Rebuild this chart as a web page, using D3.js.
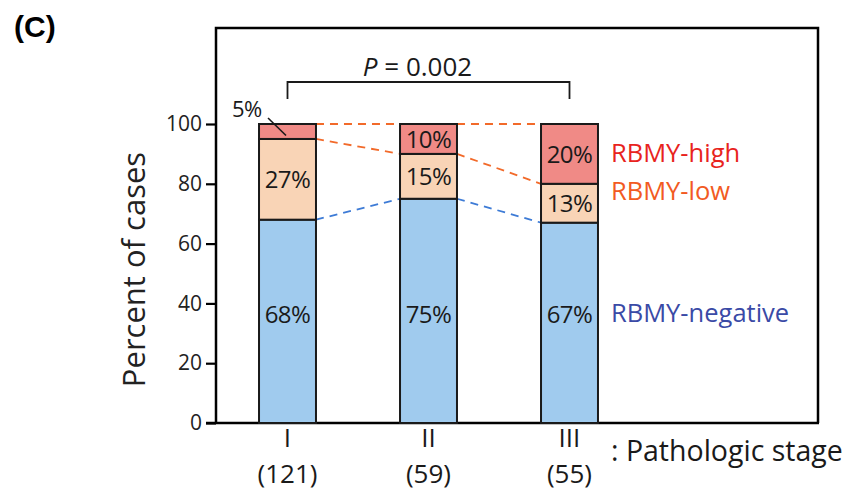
<!DOCTYPE html>
<html>
<head>
<meta charset="utf-8">
<script src="https://cdn.jsdelivr.net/npm/d3@7"></script>
<style>
  body { margin: 0; background: white; }
  text { font-family: "Open Sans", "Noto Sans", sans-serif; }
</style>
</head>
<body>
<svg id="mainSvg" width="861" height="495"></svg>
<script>
// data
var stages = ["I", "II", "III"];
var stageCounts = ["(121)", "(59)", "(55)"];
var negative = [68, 75, 67];   // RBMY-negative
var low = [27, 15, 13];        // RBMY-low
var high = [5, 10, 20];        // RBMY-high
var yTicks = [0, 20, 40, 60, 80, 100];

var negFill = "#a0cbee";
var lowFill = "#f9d4b6";
var highFill = "#f08a86";
var blueDash = "#3d7bd6";
var orangeDash = "#f26a2a";

function drawChart()
{
    const svg = d3.select("#mainSvg");
    const frame = {left: 216, right: 818, top: 28, bottom: 423};

    const yScale = d3.scaleLinear().domain([0, 100]).range([frame.bottom, 124]);
    const xScale = d3.scaleBand().domain(stages).range([217, 640])
        .paddingInner(0.596).paddingOuter(0.298);
    const bw = xScale.bandwidth();

    // panel label
    svg.append("text").text("(C)")
        .attr("x", 14).attr("y", 37)
        .attr("font-size", 30).attr("font-weight", "bold")
        .style("font-family", "Liberation Sans, Arial, sans-serif");

    // frame box
    svg.append("path")
        .attr("d", `M${frame.left},${frame.bottom} L${frame.left},${frame.top} L${frame.right},${frame.top} L${frame.right},${frame.bottom}`)
        .attr("fill", "none").attr("stroke", "black").attr("stroke-width", 2.5);
    svg.append("line")
        .attr("x1", 206).attr("x2", frame.right + 1)
        .attr("y1", frame.bottom).attr("y2", frame.bottom)
        .attr("stroke", "black").attr("stroke-width", 2.5);

    // y axis
    const yAxis = d3.axisLeft(yScale).tickValues(yTicks).tickSize(10).tickPadding(4);
    const yG = svg.append("g").attr("transform", `translate(${frame.left},0)`).call(yAxis);
    yG.select(".domain").remove();
    yG.selectAll(".tick line").attr("stroke", "black").attr("stroke-width", 2.2);
    yG.selectAll(".tick text").attr("font-size", 21).attr("fill", "#222")
        .style("font-family", "Open Sans, sans-serif");

    svg.append("text").text("Percent of cases")
        .attr("transform", `translate(145,${yScale(50) - 4}) rotate(-90)`)
        .attr("text-anchor", "middle").attr("font-size", 31).attr("fill", "#222");

    // stacked data
    const rows = stages.map((s, i) => ({stage: s, neg: negative[i], low: low[i], high: high[i]}));
    const stack = d3.stack().keys(["neg", "low", "high"])(rows);
    const fills = {neg: negFill, low: lowFill, high: highFill};

    // dashed connectors between bars
    const boundaries = [
        {key: "neg", color: blueDash},
        {key: "low", color: orangeDash},
        {key: "high", color: orangeDash}
    ];
    boundaries.forEach(b => {
        const layer = stack.find(l => l.key === b.key);
        for (let i = 0; i < stages.length - 1; i++) {
            svg.append("line")
                .attr("x1", xScale(stages[i]) + bw).attr("x2", xScale(stages[i + 1]))
                .attr("y1", yScale(layer[i][1])).attr("y2", yScale(layer[i + 1][1]))
                .attr("stroke", b.color).attr("stroke-width", 1.8)
                .attr("stroke-dasharray", "8,6");
        }
    });

    // bars
    stack.forEach(layer => {
        svg.append("g").selectAll("rect").data(layer).join("rect")
            .attr("x", d => xScale(d.data.stage))
            .attr("y", d => yScale(d[1]))
            .attr("width", bw)
            .attr("height", d => yScale(d[0]) - yScale(d[1]))
            .attr("fill", fills[layer.key])
            .attr("stroke", "#1a1a1a").attr("stroke-width", 2);
    });

    // bar labels
    stack.forEach(layer => {
        svg.append("g").selectAll("text").data(layer.filter(d => (d[1] - d[0]) >= 10)).join("text")
            .attr("x", d => xScale(d.data.stage) + bw / 2)
            .attr("y", d => layer.key === "neg" ? yScale(36.5) : yScale((d[0] + d[1]) / 2))
            .attr("dy", "0.36em")
            .attr("text-anchor", "middle").attr("font-size", 24).attr("fill", "#1a1a1a")
            .attr("letter-spacing", -0.6)
            .text(d => (d[1] - d[0]) + "%");
    });

    // small 5% label with leader
    const hiLayer = stack.find(l => l.key === "high");
    const small = hiLayer[0];
    const sx = xScale(small.data.stage);
    svg.append("text").text((small[1] - small[0]) + "%")
        .attr("x", sx - 27).attr("y", yScale(100) - 7)
        .attr("font-size", 22).attr("fill", "#1a1a1a").attr("letter-spacing", -0.6);
    svg.append("line")
        .attr("x1", sx + 9).attr("y1", yScale(100) - 6)
        .attr("x2", sx + 27).attr("y2", yScale((small[0] + small[1]) / 2) + 4)
        .attr("stroke", "#1a1a1a").attr("stroke-width", 1.6);

    // significance bracket
    const bx1 = xScale(stages[0]) + bw / 2;
    const bx2 = xScale(stages[2]) + bw / 2;
    svg.append("path")
        .attr("d", `M${bx1},99 L${bx1},82 L${bx2},82 L${bx2},99`)
        .attr("fill", "none").attr("stroke", "#1a1a1a").attr("stroke-width", 1.8);
    const pText = svg.append("text")
        .attr("x", (bx1 + bx2) / 2 - 11).attr("y", 76)
        .attr("text-anchor", "middle").attr("font-size", 26).attr("fill", "#1a1a1a");
    pText.append("tspan").attr("font-style", "italic").text("P");
    pText.append("tspan").text(" = 0.002");

    // legend labels next to the last bar
    const lx = xScale(stages[2]) + bw + 13;
    const legend = [
        {text: "RBMY-high", color: "#e8231d", y: yScale(90.5)},
        {text: "RBMY-low", color: "#f25a22", y: yScale(77.5)},
        {text: "RBMY-negative", color: "#3a4aa6", y: yScale(37)}
    ];
    svg.append("g").selectAll("text").data(legend).join("text")
        .attr("x", lx).attr("y", d => d.y).attr("dy", "0.36em")
        .attr("font-size", 25.5).attr("fill", d => d.color)
        .text(d => d.text);

    // x labels: stage and case count
    stages.forEach((s, i) => {
        const cx = xScale(s) + bw / 2;
        svg.append("text").text(s)
            .attr("x", cx).attr("y", 447)
            .attr("text-anchor", "middle").attr("font-size", 26).attr("fill", "#1a1a1a");
        svg.append("text").text(stageCounts[i])
            .attr("x", cx).attr("y", 483)
            .attr("text-anchor", "middle").attr("font-size", 26).attr("fill", "#1a1a1a");
    });
    svg.append("text").text(": Pathologic stage")
        .attr("x", 611).attr("y", 461)
        .attr("font-size", 28.5).attr("fill", "#1a1a1a");
}

window.addEventListener("load", drawChart);
</script>
</body>
</html>
